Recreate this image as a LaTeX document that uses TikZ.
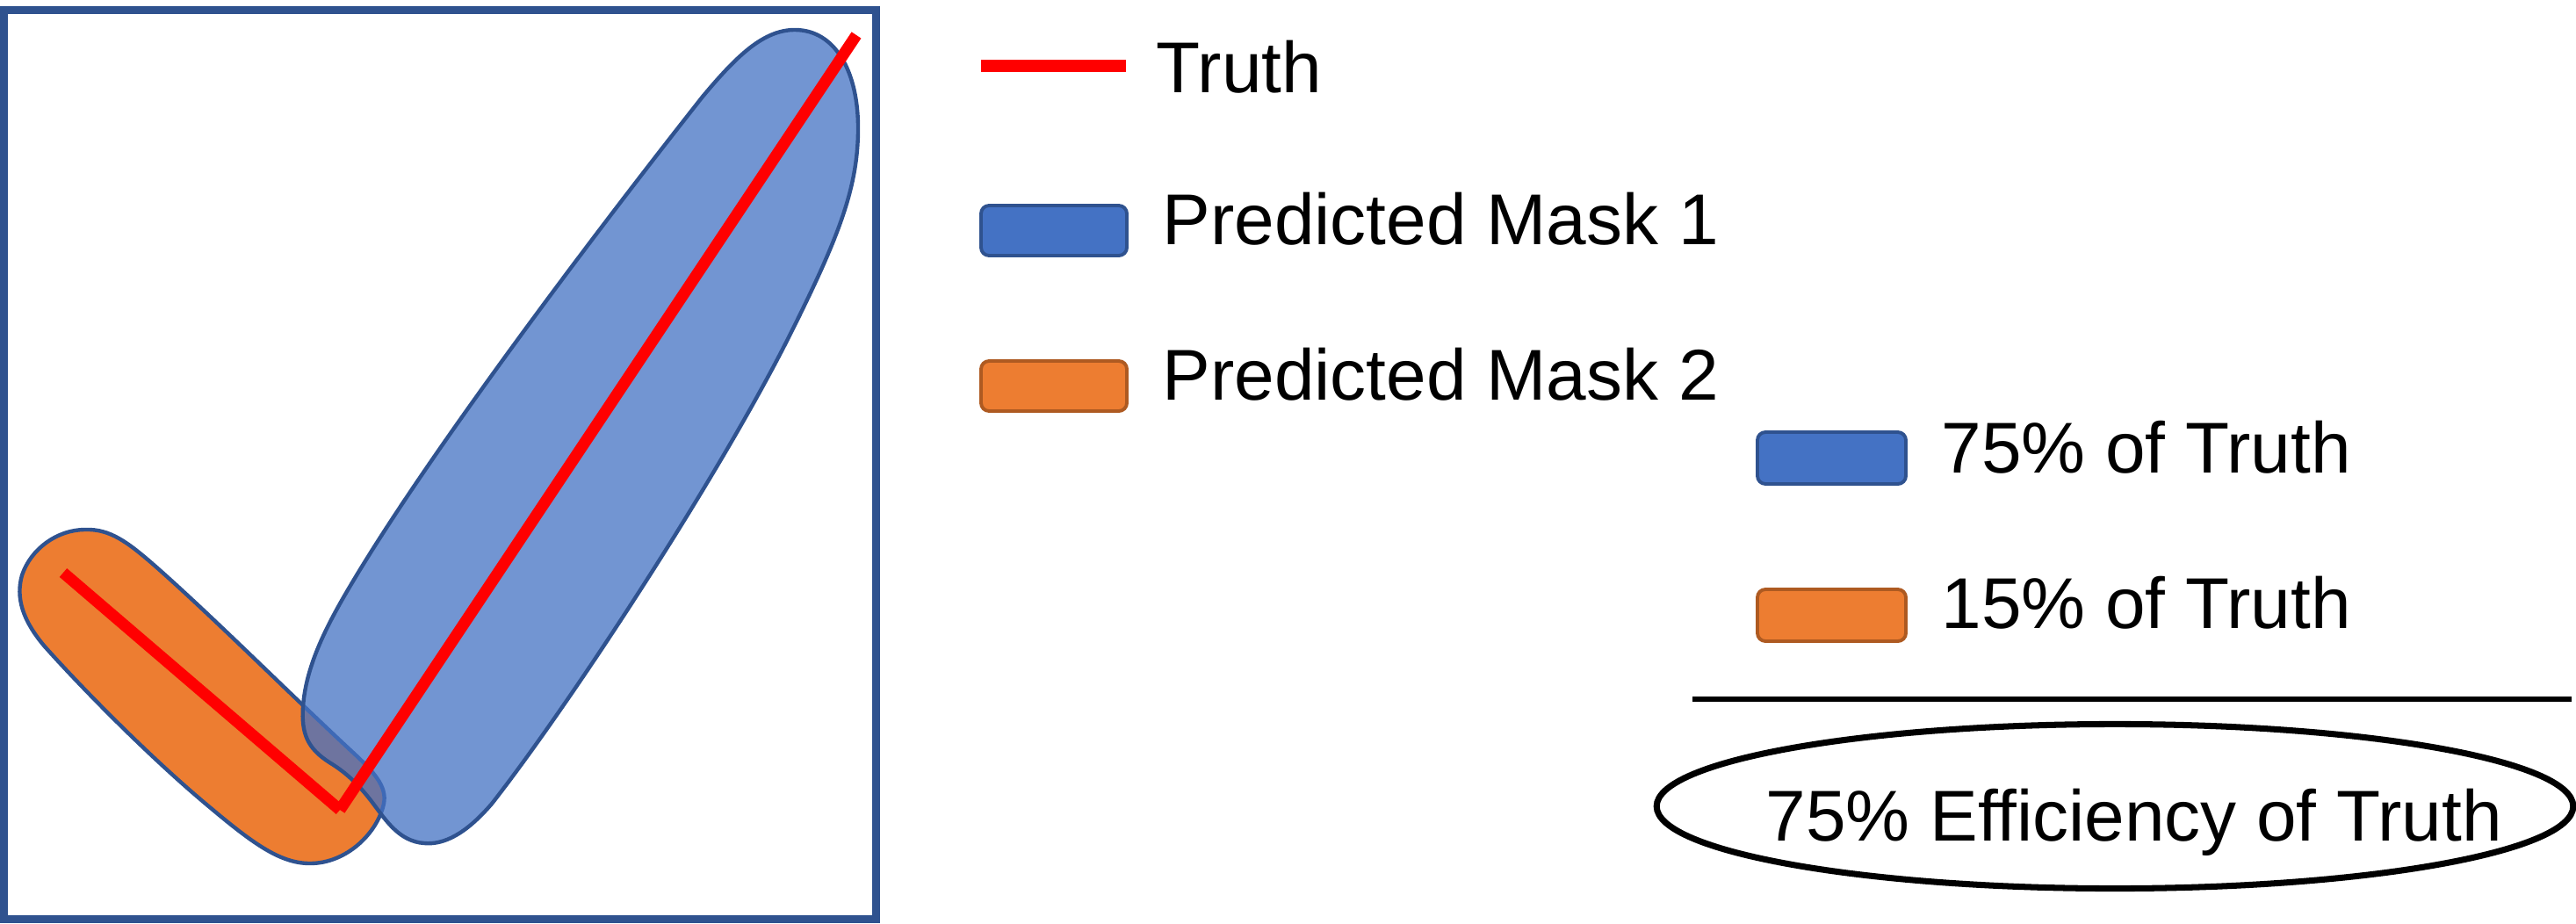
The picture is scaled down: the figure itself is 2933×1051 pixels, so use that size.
\documentclass[tikz,border=0pt]{standalone}
\usepackage{fontspec}
\setmainfont{Liberation Sans}
\usetikzlibrary{shapes.geometric}
\definecolor{framecol}{HTML}{2F528F}
\definecolor{maskblue}{HTML}{4472C4}
\definecolor{maskorange}{HTML}{ED7D31}
\definecolor{orangeedge}{HTML}{AE5A21}
\definecolor{truthred}{HTML}{FF0000}
\tikzset{
  px/.style={x=0.01cm,y=-0.01cm},
  lbl/.style={anchor=base west,inner sep=0pt,font=\fontsize{23.3}{28}\selectfont},
  bluekey/.style={draw=framecol,fill=maskblue,line width=1.1pt,rounded corners=2.6pt},
  orangekey/.style={draw=orangeedge,fill=maskorange,line width=1.1pt,rounded corners=2.6pt},
  truthline/.style={draw=truthred,line width=3.7pt,line cap=butt},
  maskedge/.style={draw=framecol,line width=1.25pt}
}
\begin{document}
\begin{tikzpicture}[px]
\useasboundingbox (0,0) rectangle (2933,1051);
\fill[white] (0,0) rectangle (2933,1051);
% frame
\draw[framecol,line width=2.56pt] (4.5,11.5) rectangle (997.5,1046.5);
% orange mask
\filldraw[maskedge,fill=maskorange] (97,603)
  .. controls (125,602) and (145,617) .. (175,643)
  .. controls (240,700) and (330,790) .. (400,855)
  .. controls (425,878) and (441,895) .. (437,915)
  .. controls (430,948) and (395,983) .. (353,983)
  .. controls (320,983) and (290,962) .. (240,920)
  .. controls (170,862) and (90,780) .. (50,735)
  .. controls (25,705) and (18,680) .. (25,655)
  .. controls (35,625) and (65,603) .. (97,603) -- cycle;
% blue mask
\filldraw[maskedge,fill=maskblue,fill opacity=0.75] (905,34)
  .. controls (950,34) and (978,80) .. (977,150)
  .. controls (976,215) and (955,270) .. (900,380)
  .. controls (820,540) and (650,800) .. (560,915)
  .. controls (530,950) and (505,962) .. (483,960)
  .. controls (455,958) and (440,935) .. (425,915)
  .. controls (410,895) and (395,880) .. (375,868)
  .. controls (350,852) and (343,835) .. (345,805)
  .. controls (348,760) and (370,715) .. (400,665)
  .. controls (480,530) and (650,300) .. (800,110)
  .. controls (840,62) and (870,34) .. (905,34) -- cycle;
% truth polyline
\coordinate (t0) at (72,652);
\coordinate (tv) at (387,922);
\coordinate (t1) at (975,40);
\draw[truthline] (t0) -- (tv);
\draw[truthline] (tv) -- (t1);
% legend
\coordinate (lt0) at (1117,75);
\coordinate (lt1) at (1282,75);
\draw[truthline] (lt0) -- (lt1);
\node[lbl] (ltruth) at (1316,105) {Truth};
\draw[bluekey] (1117,234) rectangle (1283,291);
\node[lbl] (lm1) at (1323,278) {Predicted Mask 1};
\draw[orangekey] (1117,411) rectangle (1283,468);
\node[lbl] (lm2) at (1323,455) {Predicted Mask 2};
\draw[bluekey] (2001,492) rectangle (2170,551);
\node[lbl] (p75) at (2210,538) {75\% of Truth};
\draw[orangekey] (2001,671) rectangle (2170,730);
\node[lbl] (p15) at (2210,715) {15\% of Truth};
% sum line
\coordinate (s0) at (1927,796);
\coordinate (s1) at (2928,796);
\draw[black,line width=1.7pt] (s0) -- (s1);
% result ellipse
\node[draw=black,line width=2pt,ellipse,minimum width=10.43cm,minimum height=1.87cm,inner sep=0pt] (res) at (2408,918) {};
\node[lbl] (restext) at (2010,957) {75\% Efficiency of Truth};
\end{tikzpicture}
\end{document}
